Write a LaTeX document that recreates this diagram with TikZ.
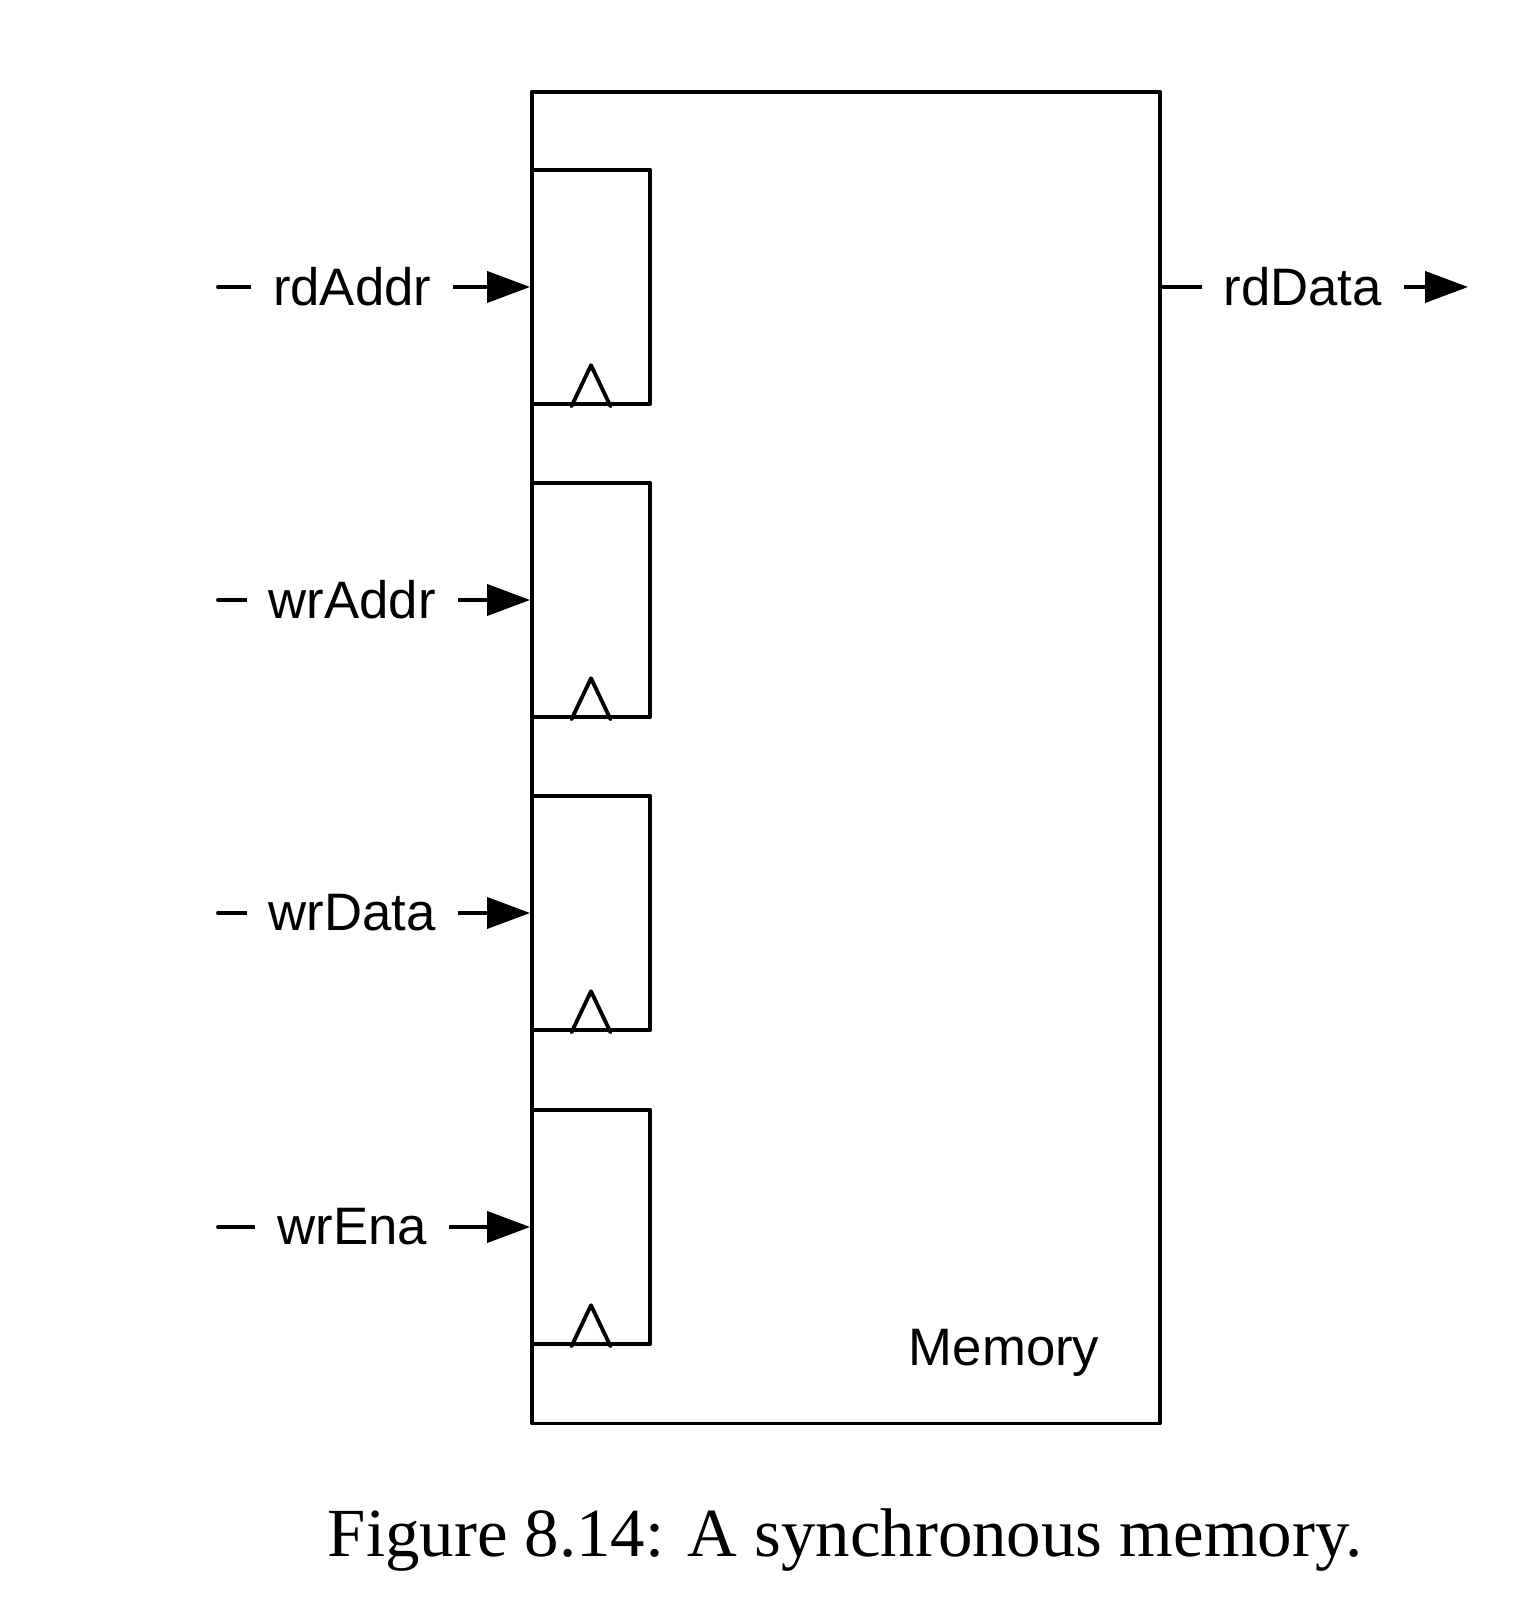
\documentclass[tikz,border=0pt]{standalone}
\usepackage{fontspec}
\setmainfont{Liberation Serif}
\newfontfamily\sigfont{Liberation Sans}
\usetikzlibrary{arrows.meta,calc}

\begin{document}
\begin{tikzpicture}[line join=round, line cap=round, line width=1.1pt,
		>={Triangle[length=4.3mm,width=3.1mm]}]
			\tikzset{every node/.style={font=\sigfont\fontsize{15}{18}\selectfont}}
			\tikzset{regbox/.style={draw, minimum width=1.18cm, minimum height=2.347cm, inner sep=0pt}}
			\tikzset{sig/.style={fill=white, inner xsep=0.22cm, inner ysep=2pt}}
			\useasboundingbox (0,0) rectangle (15.12,16.14);
			% memory block
			\node[draw, minimum width=6.28cm, minimum height=13.319cm, inner sep=0pt] (mem) at (8.46,8.5645) {};
			\node[anchor=base east] (memlbl) at ($(mem.south east)+(-0.49,0.6)$) {Memory};
			% input registers
			\foreach \i/\sig/\y in {1/rdAddr/13.27, 2/wrAddr/10.14, 3/wrData/7.01, 4/wrEna/3.87}
			{
				\node[regbox] (reg\i) at (5.91,\y) {};
				\draw ($(reg\i.south)+(-0.195,0)$) -- ++(0.195,0.41) -- ++(0.195,-0.41);
				\coordinate (in\i) at (2.18,\y);
				\draw[->] (in\i) -- node[sig, pos=0.43] {\sig} (reg\i.west);
			}
			% output
			\coordinate (out) at (14.68,13.27);
			\draw[->] (mem.east |- reg1) -- node[sig, pos=0.46] {rdData} (out);
			\node[font=\rmfamily\fontsize{19.6}{22}\selectfont, anchor=base] (cap) at (8.45,0.57) {Figure 8.14: A synchronous memory.};
		\end{tikzpicture}
\end{document}
